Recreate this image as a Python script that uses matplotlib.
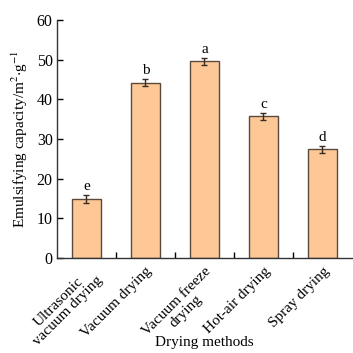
import matplotlib.pyplot as plt
import matplotlib.transforms as mtransforms
from matplotlib.ticker import FixedLocator

plt.rcParams['font.family'] = ['Liberation Serif', 'DejaVu Serif']
plt.rcParams['mathtext.fontset'] = 'stix'

# data
methods = ['Ultrasonic\nvacuum drying', 'Vacuum drying', 'Vacuum freeze\ndrying',
           'Hot-air drying', 'Spray drying']
capacity = [14.8, 44.2, 49.6, 35.8, 27.4]
errors = [1.0, 0.9, 0.8, 0.9, 0.8]
letters = ['e', 'b', 'a', 'c', 'd']

fig = plt.figure(figsize=(3.53, 3.53), dpi=100)
ax = fig.add_axes([0.161, 0.269, 0.836, 0.674])

x = range(len(methods))
ax.bar(x, capacity, width=0.5, color='#fdc896', edgecolor='#5b4a3c', linewidth=1.0,
       yerr=errors, error_kw=dict(ecolor='#3a2a20', elinewidth=1.0, capsize=2, capthick=1.0))
for i, (v, e, s) in enumerate(zip(capacity, errors, letters)):
    ax.text(i, v + e + 0.5, s, ha='center', va='bottom', fontsize=11)

ax.set_xlim(-0.5, 4.5)
ax.set_ylim(0, 60)
ax.set_yticks(range(0, 61, 10))
ax.set_xticks(list(x))
ax.set_xticklabels(methods, rotation=45, ha='right', rotation_mode='anchor',
                   multialignment='center', fontsize=11, linespacing=1.0)
shift = mtransforms.ScaledTranslation(8 / 100, 0, fig.dpi_scale_trans)
for lab in ax.get_xticklabels():
    lab.set_transform(lab.get_transform() + shift)
ax.xaxis.set_minor_locator(FixedLocator([0.5, 1.5, 2.5, 3.5]))
ax.tick_params(axis='x', which='major', length=0, pad=5)
ax.tick_params(axis='x', which='minor', direction='in', length=4, width=1)
ax.tick_params(axis='y', direction='in', length=4, width=1, labelsize=11.5, pad=3)
for sp in ['top', 'right']:
    ax.spines[sp].set_visible(False)
for sp in ['left', 'bottom']:
    ax.spines[sp].set_linewidth(1.0)
    ax.spines[sp].set_color('#333333')

ax.set_xlabel('Drying methods', fontsize=11)
ax.xaxis.set_label_coords(0.5, -0.357)
ax.xaxis.label.set_va('center')
ax.set_ylabel('Emulsifying capacity/m$^{2}$$\\cdot$g$^{-1}$', fontsize=11)
ax.yaxis.set_label_coords(-0.125, 0.5)
ax.yaxis.label.set_va('center')

fig.savefig('out.png', dpi=100)
